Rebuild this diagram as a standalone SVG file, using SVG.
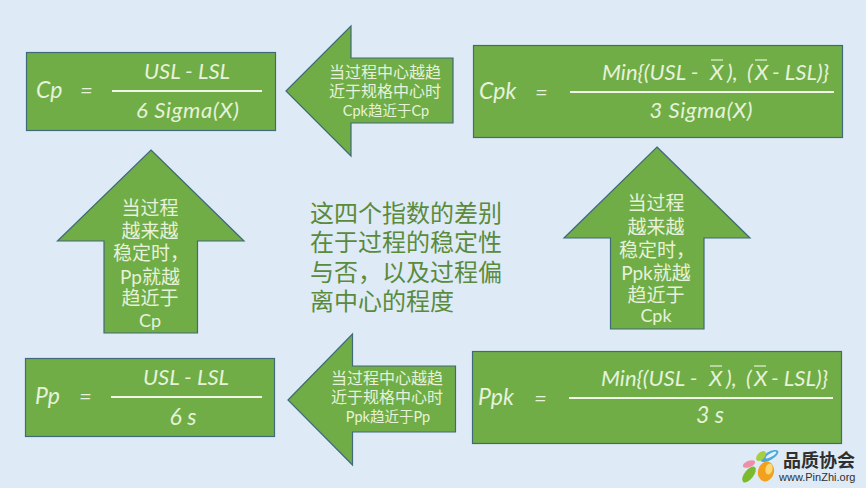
<svg xmlns="http://www.w3.org/2000/svg" width="866" height="488" viewBox="0 0 866 488">
<style>
.shape{fill:#70ad47;stroke:#3f6a78;stroke-width:1.2}
.rule{stroke:#f1f7e8;stroke-width:2;fill:none}
.bar{stroke:#e8f3dc;stroke-width:1.2;fill:none}
text{fill:#e6f2da}
.f{font-family:"Lato","Open Sans",sans-serif;font-style:italic;font-size:22px}
.c{text-anchor:middle}
.a,.s,.sm{font-family:"Liberation Sans","Noto Sans CJK SC",sans-serif;text-anchor:middle}
.a{font-size:19px}
.s{font-size:16px}
.sm{font-size:14.500px}
.l{font-family:"Lato",sans-serif}
.mid{font-family:"Liberation Sans","Noto Sans CJK SC",sans-serif;font-size:24px;fill:#5a8a3c}
.lg{font-family:"Liberation Sans","Noto Sans CJK SC",sans-serif;font-size:18px;font-weight:700;fill:#2f2f2f}
.lw{font-family:"Liberation Sans",sans-serif;font-size:11px;fill:#2f2f2f}
</style>
<rect width="866" height="488" fill="#deeaf6"/>
<g id="node-cp">
<rect class="shape" x="26.500" y="52.500" width="249" height="78"/>
<text class="f" x="36" y="98" style="font-size:23px">Cp</text><text class="f" x="80" y="98">=</text>
<line class="rule" x1="112" y1="91" x2="262" y2="91"/>
<text class="f c" x="187" y="79">USL - LSL</text>
<text class="f c" x="187.500" y="118" style="font-size:22px" textLength="103" lengthAdjust="spacing">6 Sigma(X)</text>
</g>
<g id="node-cpk">
<rect class="shape" x="473.500" y="45.500" width="369" height="92"/>
<text class="f" x="479" y="99" style="font-size:23px">Cpk</text><text class="f" x="535" y="100">=</text>
<line class="rule" x1="570" y1="92" x2="834" y2="92"/>
<text class="f" x="602" y="80">Min{(USL -</text><text class="f" x="710" y="80">X</text>
<text class="f" x="727" y="80">),</text><text class="f" x="747" y="80">(</text><text class="f" x="755" y="80">X</text>
<text class="f" x="772" y="80">- LSL)}</text>
<line class="bar" x1="711" y1="60" x2="723" y2="60"/><line class="bar" x1="755" y1="60" x2="767" y2="60"/>
<text class="f c" x="701" y="118" textLength="103" lengthAdjust="spacing">3 Sigma(X)</text>
</g>
<g id="node-pp">
<rect class="shape" x="25.500" y="358.500" width="249" height="78"/>
<text class="f" x="35" y="404" style="font-size:23px">Pp</text><text class="f" x="79" y="404">=</text>
<line class="rule" x1="111" y1="397" x2="262" y2="397"/>
<text class="f c" x="186" y="385">USL - LSL</text>
<text class="f c" x="183" y="425" style="font-size:23px">6 s</text>
</g>
<g id="node-ppk">
<rect class="shape" x="472.500" y="351.500" width="369" height="92"/>
<text class="f" x="478" y="405" style="font-size:23px">Ppk</text><text class="f" x="534" y="406">=</text>
<line class="rule" x1="569" y1="398" x2="833" y2="398"/>
<text class="f" x="601" y="386">Min{(USL -</text><text class="f" x="709" y="386">X</text>
<text class="f" x="726" y="386">),</text><text class="f" x="746" y="386">(</text><text class="f" x="754" y="386">X</text>
<text class="f" x="771" y="386">- LSL)}</text>
<line class="bar" x1="710" y1="366" x2="722" y2="366"/><line class="bar" x1="754" y1="366" x2="766" y2="366"/>
<text class="f c" x="710" y="423" style="font-size:23px">3 s</text>
</g>
<g id="connectors">
<g id="arrow-top">
<polygon class="shape" points="286,91 351,26 351,58 453,58 453,123 351,123 351,156"/>
<text class="s" x="385" y="78">当过程中心越趋</text>
<text class="s" x="385" y="97">近于规格中心时</text>
<text class="sm" x="386" y="116"><tspan class="l">Cpk</tspan>趋近于<tspan class="l">Cp</tspan></text>
</g>
<g id="arrow-bottom">
<polygon class="shape" points="288,400 352.500,334 352.500,366 455.500,366 455.500,432 352.500,432 352.500,465"/>
<text class="s" x="387" y="384">当过程中心越趋</text>
<text class="s" x="387" y="403">近于规格中心时</text>
<text class="sm" x="388" y="422"><tspan class="l">Ppk</tspan>趋近于<tspan class="l">Pp</tspan></text>
</g>
<g id="arrow-left">
<polygon class="shape" points="151,150 244,241 197.500,241 197.500,333 104,333 104,241 57.500,241"/>
<text class="a" x="150" y="215">当过程</text>
<text class="a" x="150" y="238">越来越</text>
<text class="a" x="151" y="260">稳定时，</text>
<text class="a" x="150" y="284"><tspan class="l">Pp</tspan>就越</text>
<text class="a" x="150" y="305">趋近于</text>
<text class="s" x="150" y="327" style="font-size:18px"><tspan class="l">Cp</tspan></text>
</g>
<g id="arrow-right">
<polygon class="shape" points="657,147 750,238 704,238 704,329 610.500,329 610.500,238 564,238"/>
<text class="a" x="656" y="210">当过程</text>
<text class="a" x="656" y="234">越来越</text>
<text class="a" x="657" y="257">稳定时，</text>
<text class="a" x="656" y="280"><tspan class="l">Ppk</tspan>就越</text>
<text class="a" x="656" y="302">趋近于</text>
<text class="s" x="656" y="322" style="font-size:18px"><tspan class="l">Cpk</tspan></text>
</g>
</g>
<g id="node-center">
<text class="mid" x="310" y="222">这四个指数的差别</text>
<text class="mid" x="310" y="251">在于过程的稳定性</text>
<text class="mid" x="310" y="281">与否，以及过程偏</text>
<text class="mid" x="310" y="310">离中心的程度</text>
</g>
<g id="logo">
<ellipse cx="766" cy="471.500" rx="8" ry="10" fill="#f3a01e" transform="rotate(15 766 471.500)"/>
<ellipse cx="769" cy="469" rx="3.500" ry="5.500" fill="#fcd873" transform="rotate(15 769 469)"/>
<ellipse cx="769.500" cy="456" rx="10" ry="4" fill="#4fa8dc" transform="rotate(-30 769.500 456)"/>
<ellipse cx="771" cy="455" rx="6" ry="1.800" fill="#e2f2fb" transform="rotate(-30 771 455)"/>
<ellipse cx="761" cy="456" rx="6" ry="3.500" fill="#a6cf45" transform="rotate(-45 761 456)"/>
<ellipse cx="749" cy="464" rx="6.500" ry="3.200" fill="#ee8fa8" transform="rotate(-22 749 464)"/>
<ellipse cx="749" cy="474.500" rx="9.500" ry="4.500" fill="#7cba2d" transform="rotate(-52 749 474.500)"/>
<text class="lg" x="783" y="467">品质协会</text>
<text class="lw" x="779" y="481">www.PinZhi.org</text>
</g>
</svg>
